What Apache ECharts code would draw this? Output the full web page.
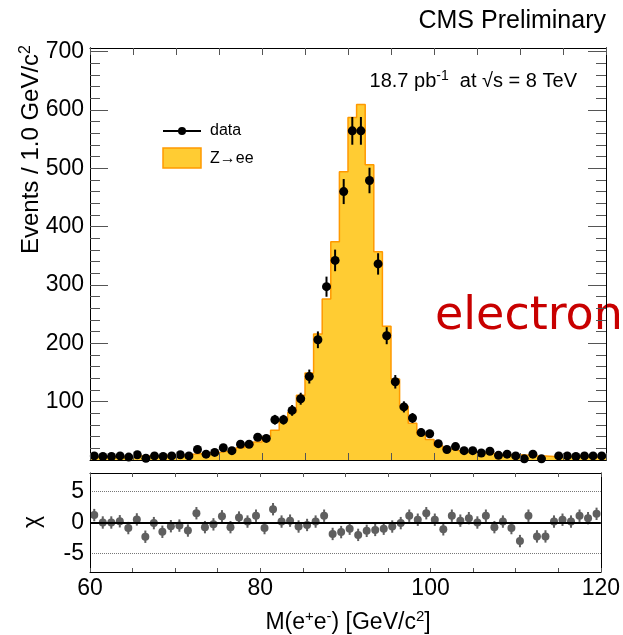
<!DOCTYPE html>
<html>
<head>
<meta charset="utf-8">
<script src="https://cdn.jsdelivr.net/npm/echarts@6/dist/echarts.min.js"></script>
<style>
html, body { margin: 0; padding: 0; background: #fff; }
#chart { width: 623px; height: 635px; }
</style>
</head>
<body>
<div id="chart"></div>
<script>
// bin centres, M(e+e-) in GeV/c^2
const massBins = [
  60.5, 61.5, 62.5, 63.5, 64.5, 65.5, 66.5, 67.5, 68.5, 69.5,
  70.5, 71.5, 72.5, 73.5, 74.5, 75.5, 76.5, 77.5, 78.5, 79.5,
  80.5, 81.5, 82.5, 83.5, 84.5, 85.5, 86.5, 87.5, 88.5, 89.5,
  90.5, 91.5, 92.5, 93.5, 94.5, 95.5, 96.5, 97.5, 98.5, 99.5,
  100.5, 101.5, 102.5, 103.5, 104.5, 105.5, 106.5, 107.5, 108.5, 109.5,
  110.5, 111.5, 112.5, 113.5, 114.5, 115.5, 116.5, 117.5, 118.5, 119.5
]
const binWidth = 1.0

// observed events
const dataCounts = [
  7, 6, 6, 7, 5, 9, 3, 7, 6, 7,
  9, 7, 18, 10, 13, 21, 16, 27, 27, 39,
  37, 69, 69, 85, 105, 143, 206, 297, 342, 460,
  564, 564, 479, 336, 213, 134, 91, 72, 47, 45,
  28, 18, 23, 16, 16, 12, 15, 8, 10, 7,
  2, 10, 2, 0, 7, 7, 6, 7, 7, 7
]

// Z->ee simulation
const zeeCounts = [
  5, 5, 6, 6, 6, 7, 7, 7, 8, 8,
  9, 10, 11, 12, 13, 15, 17, 21, 25, 31,
  40, 51, 68, 82, 111, 149, 216, 276, 374, 494,
  587, 609, 506, 357, 229, 139, 92, 63, 44, 35,
  25, 19, 16, 14, 13, 12, 11, 10, 9, 9,
  8, 7, 7, 6, 6, 6, 6, 5, 5, 5
]

// pull (data - MC) / sigma
const chiValues = [
  1.2, 0, 0, 0.2, -0.9, 0.5, -2.3, -0.1, -1.5, -0.6,
  -0.5, -1.3, 1.5, -0.75, -0.3, 1.0, -0.75, 0.8, 0.15, 1.1,
  -0.9, 2.15, 0.15, 0.3, -0.65, -0.4, 0.15, 1.1, -1.85, -1.55,
  -1.0, -2.0, -1.35, -1.2, -1.0, -0.65, -0.1, 1.1, 0.45, 1.5,
  0.45, -1.1, 1.1, 0.3, 0.7, 0, 1.1, -0.75, 0.15, -0.9,
  -3.0, 1.1, -2.25, -2.25, 0.15, 0.45, 0.15, 1.1, 0.7, 1.4
]
const chiError = 1

const yMajorTicks = [100, 200, 300, 400, 500, 600, 700]
const yMinorTicks = []
for (let v = 20; v < 706; v += 20) {
  if (v % 100 !== 0) yMinorTicks.push(v)
}
const chiTicks = [-5, 0, 5]
const xLabels = [60, 80, 100, 120]

const FONT = 'Liberation Sans'
const chart = echarts.init(document.getElementById('chart'))

// histogram as a step line through the lower bin edges
const zeeStep = massBins.map((m, i) => [m - binWidth / 2, zeeCounts[i]])
zeeStep.push([massBins[massBins.length - 1] + binWidth / 2, zeeCounts[zeeCounts.length - 1]])

const dataPoints = []
massBins.forEach((m, i) => {
  if (dataCounts[i] > 0) dataPoints.push([m, dataCounts[i], Math.sqrt(dataCounts[i])])
})
const chiPoints = massBins.map((m, i) => [m, chiValues[i], chiError])

function errorPoint(color, r) {
  return function(params, api) {
    const x = api.value(0)
    const y = api.value(1)
    const e = api.value(2)
    const p = api.coord([x, y])
    const lo = api.coord([x, y - e])
    const hi = api.coord([x, y + e])
    return {
      type: 'group',
      children: [
        { type: 'line', shape: { x1: p[0], y1: lo[1], x2: p[0], y2: hi[1] }, style: { stroke: color, lineWidth: 2 } },
        { type: 'circle', shape: { cx: p[0], cy: p[1], r: r }, style: { fill: color } }
      ]
    }
  }
}

const axisLineStyle = { lineStyle: { color: '#000', width: 1 } }
const tickColor = '#555'

function xAxisFor(gridIndex, position, tickLen, showLabel) {
  return {
    type: 'value', gridIndex: gridIndex, position: position, min: 60, max: 120, interval: 5, z: 5,
    axisLine: { show: true, onZero: false, ...axisLineStyle },
    axisTick: { show: true, inside: true, length: tickLen, lineStyle: { color: tickColor } },
    axisLabel: {
      show: showLabel, customValues: xLabels, margin: 5,
      fontFamily: FONT, fontSize: 23, color: '#000'
    },
    splitLine: { show: false }
  }
}

function yAxisFor(gridIndex, position, min, max, ticks, tickLen, labels) {
  return {
    type: 'value', gridIndex: gridIndex, position: position, min: min, max: max, z: 5,
    axisLine: { show: true, onZero: false, ...axisLineStyle },
    axisTick: { show: ticks !== null, inside: true, length: tickLen, customValues: ticks || [], lineStyle: { color: tickColor } },
    axisLabel: {
      show: labels !== null, customValues: labels || [], margin: 6,
      fontFamily: FONT, fontSize: 23, color: '#000'
    },
    splitLine: { show: false }
  }
}

chart.setOption({
  animation: false,
  grid: [
    { left: 90, top: 48, width: 516, height: 412 },
    { left: 90, top: 473, width: 516, height: 99 }
  ],
  xAxis: [
    xAxisFor(0, 'bottom', 7, false),
    xAxisFor(0, 'top', 7, false),
    xAxisFor(1, 'bottom', 4, true),
    xAxisFor(1, 'top', 4, false)
  ],
  yAxis: [
    yAxisFor(0, 'left', 0, 706, yMajorTicks, 18, yMajorTicks),
    yAxisFor(0, 'left', 0, 706, yMinorTicks, 10, null),
    yAxisFor(0, 'right', 0, 706, yMajorTicks, 18, null),
    yAxisFor(0, 'right', 0, 706, yMinorTicks, 10, null),
    yAxisFor(1, 'left', -8, 8, null, 0, chiTicks),
    yAxisFor(1, 'right', -8, 8, null, 0, null)
  ],
  series: [
    {
      name: 'Z→ee', type: 'line', xAxisIndex: 0, yAxisIndex: 0,
      step: 'end', symbol: 'none', data: zeeStep,
      lineStyle: { color: '#ff9900', width: 1.5 },
      areaStyle: { color: '#ffcc33', opacity: 1 }
    },
    {
      name: 'data', type: 'custom', xAxisIndex: 0, yAxisIndex: 0,
      renderItem: errorPoint('#000', 4.5), data: dataPoints,
      encode: { x: 0, y: 1 }, z: 4
    },
    {
      name: 'chi', type: 'custom', xAxisIndex: 2, yAxisIndex: 4,
      renderItem: errorPoint('#5f5f5f', 4), data: chiPoints,
      encode: { x: 0, y: 1 }, z: 4,
      markLine: {
        silent: true, symbol: 'none', label: { show: false },
        data: [
          { yAxis: 5, lineStyle: { color: '#777', type: 'dotted', width: 1 } },
          { yAxis: -5, lineStyle: { color: '#777', type: 'dotted', width: 1 } },
          { yAxis: 0, lineStyle: { color: '#000', type: 'solid', width: 2 } }
        ]
      }
    }
  ],
  graphic: [
    {
      type: 'text', x: 606, y: 21,
      style: { text: 'CMS Preliminary', font: '25px ' + FONT, fill: '#000', align: 'right', verticalAlign: 'middle' }
    },
    {
      type: 'text', x: 577, y: 81,
      style: {
        text: '{t|18.7 pb}{s|-1}{t|  at √s = 8 TeV}', align: 'right', verticalAlign: 'middle',
        rich: {
          t: { fontFamily: FONT, fontSize: 20, fill: '#000' },
          s: { fontFamily: FONT, fontSize: 14, fill: '#000', padding: [0, 0, 9, 0] }
        }
      }
    },
    { type: 'line', shape: { x1: 163, y1: 131, x2: 201, y2: 131 }, style: { stroke: '#000', lineWidth: 2 } },
    { type: 'circle', shape: { cx: 182, cy: 131, r: 4 }, style: { fill: '#000' } },
    {
      type: 'text', x: 210, y: 131,
      style: { text: 'data', font: '16px ' + FONT, fill: '#000', verticalAlign: 'middle' }
    },
    { type: 'rect', shape: { x: 163, y: 148, width: 38, height: 20 }, style: { fill: '#ffcc33', stroke: '#ff9900', lineWidth: 1.5 } },
    {
      type: 'text', x: 210, y: 159,
      style: { text: 'Z→ee', font: '16px ' + FONT, fill: '#000', verticalAlign: 'middle' }
    },
    {
      type: 'text', x: 435, y: 317,
      style: { text: 'electron', font: '46px DejaVu Sans', fill: '#c80000', verticalAlign: 'middle' }
    },
    {
      type: 'text', x: 31, y: 45, rotation: Math.PI / 2,
      style: {
        text: '{t|Events / 1.0 GeV/c}{s|2}', align: 'right', verticalAlign: 'middle',
        rich: {
          t: { fontFamily: FONT, fontSize: 24, fill: '#000' },
          s: { fontFamily: FONT, fontSize: 16, fill: '#000', padding: [0, 0, 11, 0] }
        }
      }
    },
    {
      type: 'text', x: 33, y: 522, rotation: Math.PI / 2,
      style: { text: 'χ', font: '23px ' + FONT, fill: '#000', align: 'center', verticalAlign: 'middle' }
    },
    {
      type: 'text', x: 348, y: 623,
      style: {
        text: '{t|M(e}{s|+}{t|e}{s|-}{t|) [GeV/c}{s|2}{t|]}', align: 'center', verticalAlign: 'middle',
        rich: {
          t: { fontFamily: FONT, fontSize: 23, fill: '#000' },
          s: { fontFamily: FONT, fontSize: 15, fill: '#000', padding: [0, 0, 12, 0] }
        }
      }
    }
  ]
})
</script>
</body>
</html>
